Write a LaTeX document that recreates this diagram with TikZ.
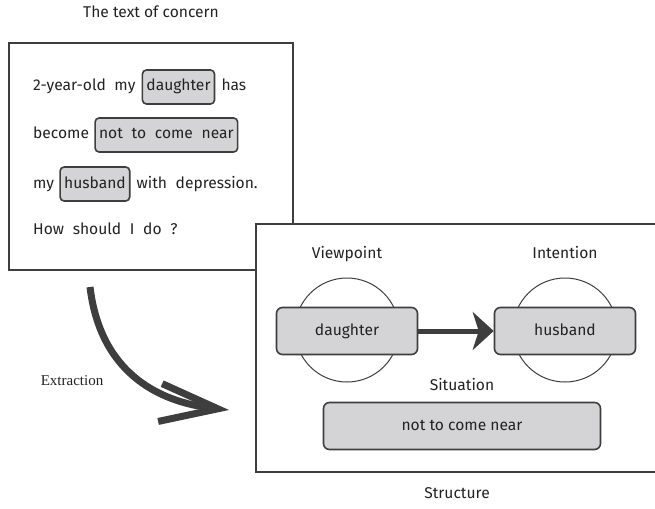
\documentclass[tikz,border=0pt]{standalone}
\usepackage{fontspec}
\setmainfont{Fira Sans}
\newfontfamily\spacedfont[WordSpace=2.1]{Fira Sans}
\newfontfamily\serifcap{Liberation Serif}
\usetikzlibrary{arrows.meta, positioning}
\definecolor{boxgray}{RGB}{212, 212, 214}
\definecolor{darkline}{RGB}{62, 62, 62}
\definecolor{textdark}{RGB}{34, 34, 34}
\tikzset{
    % Outer panels
    panel box/.style={
        rectangle, draw=darkline, line width=2.2pt, fill=white
    },
    % Plain words of the sentence
    plain text/.style={
        inner sep=0pt, text height=11pt, text depth=3pt,
        font=\spacedfont\fontsize{15.6}{17}\selectfont, text=textdark
    },
    % Highlighted words
    word box/.style={
        rectangle, rounded corners=4pt, draw=darkline, line width=1.6pt,
        fill=boxgray, inner xsep=4pt, minimum height=34pt,
        text height=11pt, text depth=3pt,
        font=\spacedfont\fontsize{15.6}{17}\selectfont, text=textdark
    },
    % Structure boxes
    role box/.style={
        rectangle, rounded corners=6pt, draw=darkline, line width=1.6pt,
        fill=boxgray, minimum height=47pt, minimum width=141pt,
        text height=11pt, text depth=3pt,
        font=\fontsize{15.6}{17}\selectfont, text=textdark
    },
    role circle/.style={
        circle, draw=darkline, line width=1pt, minimum size=104pt
    },
    % Captions
    caption/.style={
        inner sep=0pt, text height=11pt, text depth=3pt,
        font=\fontsize{15.6}{17}\selectfont, text=textdark
    },
    % Arrows
    thick arrow/.style={
        -{Stealth[length=21pt, width=38pt, inset=6pt]}, line width=5pt, color=darkline
    },
    bend arrow/.style={
        -{Straight Barb[length=58pt, width=38pt]}, line width=7pt, color=darkline
    }
}

\begin{document}
\begin{tikzpicture}[x=1pt, y=-1pt]
    \useasboundingbox (0,0) rectangle (655,508);

    % ======== TEXT OF CONCERN (LEFT) ========
    \node[panel box, minimum width=284pt, minimum height=227pt] (concern) at (151,156.5) {};
    \node[caption, above=21pt of concern] (concerncap) {The text of concern};

    % Line 1
    \node[plain text, anchor=west] (line1a) at (33,87) {2-year-old my};
    \node[word box, right=6pt of line1a] (daughterword) {daughter};
    \node[plain text, right=6pt of daughterword] (line1b) {has};

    % Line 2
    \node[plain text, anchor=west] (line2a) at (33,135) {become};
    \node[word box, right=5pt of line2a] (nearword) {not to come near};

    % Line 3
    \node[plain text, anchor=west] (line3a) at (33,184) {my};
    \node[word box, right=5pt of line3a] (husbandword) {husband};
    \node[plain text, right=6pt of husbandword] (line3b) {with depression.};

    % Line 4
    \node[plain text, anchor=west] (line4a) at (33,230) {How should I do ?};

    % Extraction arrow
    \coordinate (exstart) at (90,287);
    \coordinate (exend) at (229,410);
    \draw[bend arrow] (exstart) .. controls (100,370) and (155,402) .. (exend);
    \node[font=\serifcap\fontsize{15}{17}\selectfont, text=textdark] (extraction) at (72,381) {Extraction};

    % ======== STRUCTURE (RIGHT) ========
    \node[panel box, minimum width=402pt, minimum height=248pt] (structure) at (457,348) {};
    \node[caption, below=14pt of structure] (structurecap) {Structure};

    % Viewpoint
    \node[role circle] (viewcircle) at (347,330) {};
    \node[role box] (viewbox) at (347,331) {daughter};
    \node[caption, above=16pt of viewcircle] (viewcap) {Viewpoint};

    % Intention
    \node[role circle] (intcircle) at (565,330) {};
    \node[role box] (intbox) at (565,331) {husband};
    \node[caption, above=16pt of intcircle] (intcap) {Intention};

    \draw[thick arrow] (viewbox) -- (intbox);

    % Situation
    \node[role box, minimum width=277pt] (sitbox) at (462,426) {not to come near};
    \node[caption, above=8pt of sitbox] (sitcap) {Situation};

\end{tikzpicture}
\end{document}
